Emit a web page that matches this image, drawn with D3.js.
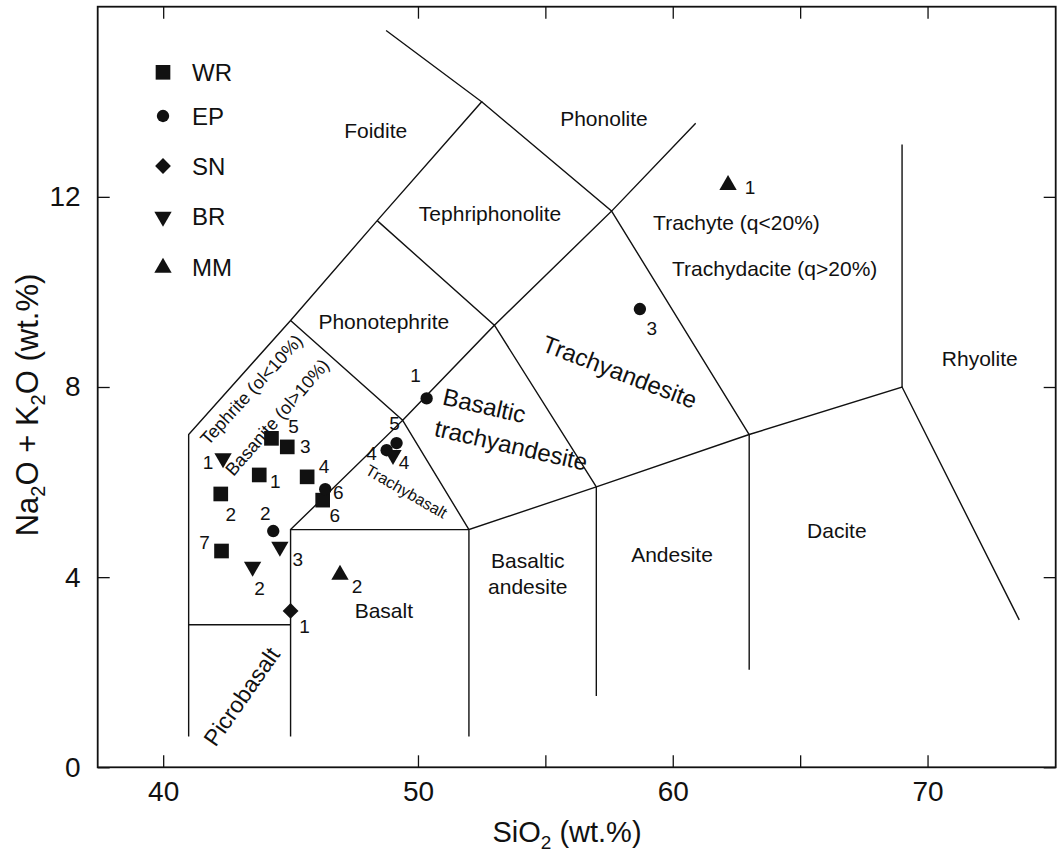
<!DOCTYPE html>
<html><head><meta charset="utf-8">
<script src="https://cdn.jsdelivr.net/npm/d3@7"></script>
<style>html,body{margin:0;padding:0;background:#fff;} svg{display:block;font-family:"Liberation Sans",Arial,Helvetica,sans-serif;}</style>
</head><body><svg id="chart" width="1059" height="852"></svg>
<script>
// ---------- data ----------
const seriesNames = ["WR", "EP", "SN", "BR", "MM"];

const wrSiO2 = [43.77, 42.26, 44.87, 45.65, 44.25, 46.26, 42.29];
const wrAlk  = [6.15, 5.75, 6.74, 6.11, 6.92, 5.62, 4.55];
const wrIds  = ["1", "2", "3", "4", "5", "6", "7"];

const epSiO2 = [50.34, 44.32, 58.71, 48.77, 49.16, 46.36];
const epAlk  = [7.76, 4.97, 9.64, 6.67, 6.82, 5.85];
const epIds  = ["1", "2", "3", "4", "5", "6"];

const snSiO2 = [45.0];
const snAlk  = [3.29];
const snIds  = ["1"];

const brSiO2 = [42.35, 43.51, 44.58, 49.02];
const brAlk  = [6.50, 4.22, 4.64, 6.57];
const brIds  = ["1", "2", "3", "4"];

const mmSiO2 = [62.17, 46.94];
const mmAlk  = [12.25, 4.05];
const mmIds  = ["1", "2"];

const xTicks = [40, 50, 55, 60, 65, 70];
const xTickLabels = [40, 50, 60, 70];
const yTicks = [0, 4, 8, 12];

// TAS field boundaries (SiO2, Na2O+K2O)
const boundaryLines = [
  [[41, 0.65], [41, 7], [45, 9.4], [48.4, 11.5], [52.5, 14], [48.75, 15.5]],
  [[41, 3], [45, 3]],
  [[45, 0.65], [45, 5], [52, 5]],
  [[52, 0.65], [52, 5], [57, 5.9], [63, 7], [69, 8], [73.6, 3.1]],
  [[57, 1.5], [57, 5.9]],
  [[63, 2.05], [63, 7]],
  [[69, 8], [69, 13.1]],
  [[45, 5], [49.4, 7.3], [52, 5]],
  [[45, 9.4], [49.4, 7.3], [53, 9.3], [57, 5.9]],
  [[48.4, 11.5], [53, 9.3], [57.6, 11.7], [63, 7]],
  [[52.5, 14], [57.6, 11.7], [60.9, 13.55]]
];

// field names and their anchor (SiO2, alkali)
const fieldNames = ["Foidite", "Phonolite", "Tephriphonolite", "Phonotephrite", "Trachyte (q<20%)",
  "Trachydacite (q>20%)", "Rhyolite", "Dacite", "Andesite", "Basaltic", "andesite", "Basalt",
  "Picrobasalt", "Trachybasalt", "Trachyandesite", "Tephrite (ol<10%)", "Basanite (ol>10%)",
  "Basaltic", "trachyandesite"];
const fieldSiO2 = [48.34, 57.3, 52.83, 48.66, 62.5, 64.0, 72.05, 66.44, 59.97, 54.31, 54.31, 48.66,
  43.08, 49.55, 57.92, 43.47, 44.48, 52.61, 53.66];
const fieldAlk = [13.40, 13.65, 11.66, 9.37, 11.47, 10.5, 8.61, 4.99, 4.47, 4.34, 3.81, 3.29,
  1.49, 5.80, 8.32, 7.94, 7.36, 7.61, 6.78];

// ---------- layout / style ----------
const W = 1059, H = 852;
const m = {left: 97.7, top: 6.7, right: 3.3, bottom: 84.7};
const fieldRot  = [0,0,0,0,0,0,0,0,0,0,0,0,-55,30,21,-47.6,-49,13,13];
const fieldSize = [21,21,21,21,21,21,21,21,21,21,21,21,23,16,24,18,18,24,24];

const labelOffsets = {
  WR: [[16,7],[10,21],[18,0],[17,-10],[22,-12],[12,15],[-17,-9]],
  EP: [[-11,-23],[-8,-18],[12,19],[-15,3],[-2,-20],[13,3]],
  SN: [[14,16]],
  BR: [[-15,4],[7,22],[18,13],[11,8]],
  MM: [[22,3],[17,12]]
};

const svg = d3.select("#chart");
const x = d3.scaleLinear().domain([37.43, 75.03]).range([m.left, W - m.right]);
const y = d3.scaleLinear().domain([0, 16]).range([H - m.bottom, m.top]);

// boundaries
const line = d3.line().x(d => x(d[0])).y(d => y(d[1]));
svg.append("g").selectAll("path").data(boundaryLines).join("path")
  .attr("d", line).attr("fill", "none").attr("stroke", "#111").attr("stroke-width", 1.4)
  .attr("stroke-linejoin", "miter");

// field labels
svg.append("g").selectAll("text").data(fieldNames).join("text")
  .attr("transform", (d, i) => `translate(${x(fieldSiO2[i])},${y(fieldAlk[i])}) rotate(${fieldRot[i]})`)
  .attr("text-anchor", "middle").attr("dominant-baseline", "central")
  .attr("font-size", (d, i) => fieldSize[i]).attr("fill", "#111").text(d => d);

// axes
const tickFmt = d => (xTickLabels.includes(d) ? d : "");
const axB = d3.axisBottom(x).tickValues(xTicks).tickFormat(tickFmt).tickSizeInner(-12).tickSizeOuter(0).tickPadding(14);
const axT = d3.axisTop(x).tickValues(xTicks).tickFormat("").tickSizeInner(-12).tickSizeOuter(0);
const axL = d3.axisLeft(y).tickValues(yTicks).tickSizeInner(-12).tickSizeOuter(0).tickPadding(17);
const axR = d3.axisRight(y).tickValues(yTicks).tickFormat("").tickSizeInner(-12).tickSizeOuter(0);
function styleAxis(g) {
  g.select(".domain").remove();
  g.selectAll(".tick line").attr("stroke", "#111").attr("stroke-width", 1.3);
  g.selectAll(".tick text").attr("font-size", 28).attr("fill", "#111")
    .attr("font-family", '"Liberation Sans",Arial,sans-serif');
}
svg.append("g").attr("transform", `translate(0,${H - m.bottom})`).call(axB).call(styleAxis);
svg.append("g").attr("transform", `translate(0,${m.top})`).call(axT).call(styleAxis);
svg.append("g").attr("transform", `translate(${m.left},0)`).call(axL).call(styleAxis);
svg.append("g").attr("transform", `translate(${W - m.right},0)`).call(axR).call(styleAxis);

svg.append("rect").attr("x", m.left).attr("y", m.top)
  .attr("width", W - m.left - m.right).attr("height", H - m.top - m.bottom)
  .attr("fill", "none").attr("stroke", "#111").attr("stroke-width", 1.8);

// axis titles
const xt = svg.append("text").attr("x", 567).attr("y", 842).attr("text-anchor", "middle")
  .attr("font-size", 29).attr("fill", "#111");
xt.append("tspan").text("SiO");
xt.append("tspan").attr("font-size", 19).attr("dy", 7).text("2");
xt.append("tspan").attr("dy", -7).text(" (wt.%)");

const yt = svg.append("text").attr("transform", "translate(38,405) rotate(-90)")
  .attr("text-anchor", "middle").attr("font-size", 31).attr("fill", "#111");
yt.append("tspan").text("Na");
yt.append("tspan").attr("font-size", 20).attr("dy", 7).text("2");
yt.append("tspan").attr("dy", -7).text("O + K");
yt.append("tspan").attr("font-size", 20).attr("dy", 7).text("2");
yt.append("tspan").attr("dy", -7).text("O (wt.%)");

// symbols
const symbolDefs = {
  WR: {type: d3.symbolSquare, size: 215, rot: 0},
  EP: {type: d3.symbolCircle, size: 120, rot: 0},
  SN: {type: d3.symbolSquare, size: 125, rot: 45},
  BR: {type: d3.symbolTriangle, size: 130, rot: 180},
  MM: {type: d3.symbolTriangle, size: 130, rot: 0}
};
const seriesData = {
  WR: [wrSiO2, wrAlk, wrIds],
  EP: [epSiO2, epAlk, epIds],
  SN: [snSiO2, snAlk, snIds],
  BR: [brSiO2, brAlk, brIds],
  MM: [mmSiO2, mmAlk, mmIds]
};
const pts = svg.append("g");
const lbls = svg.append("g");
seriesNames.forEach(name => {
  const [xs, ys, ids] = seriesData[name];
  const def = symbolDefs[name];
  const rows = xs.map((v, i) => ({sx: v, sy: ys[i], id: ids[i], off: labelOffsets[name][i]}));
  pts.selectAll(null).data(rows).join("path")
    .attr("d", d3.symbol().type(def.type).size(def.size))
    .attr("transform", d => `translate(${x(d.sx)},${y(d.sy)}) rotate(${def.rot})`)
    .attr("fill", "#111");
  lbls.selectAll(null).data(rows).join("text")
    .attr("x", d => x(d.sx) + d.off[0]).attr("y", d => y(d.sy) + d.off[1])
    .attr("text-anchor", "middle").attr("dominant-baseline", "central")
    .attr("font-size", 19).attr("fill", "#111").text(d => d.id);
});

// legend
const legY = [72.3, 116, 166, 216.7, 267.7];
const leg = svg.append("g");
seriesNames.forEach((name, i) => {
  const def = symbolDefs[name];
  leg.append("path").attr("d", d3.symbol().type(def.type).size(def.size))
    .attr("transform", `translate(163,${legY[i]}) rotate(${def.rot})`).attr("fill", "#111");
  leg.append("text").attr("x", 192).attr("y", legY[i]).attr("dominant-baseline", "central")
    .attr("font-size", 24).attr("fill", "#111").text(name);
});
</script>
</body></html>
